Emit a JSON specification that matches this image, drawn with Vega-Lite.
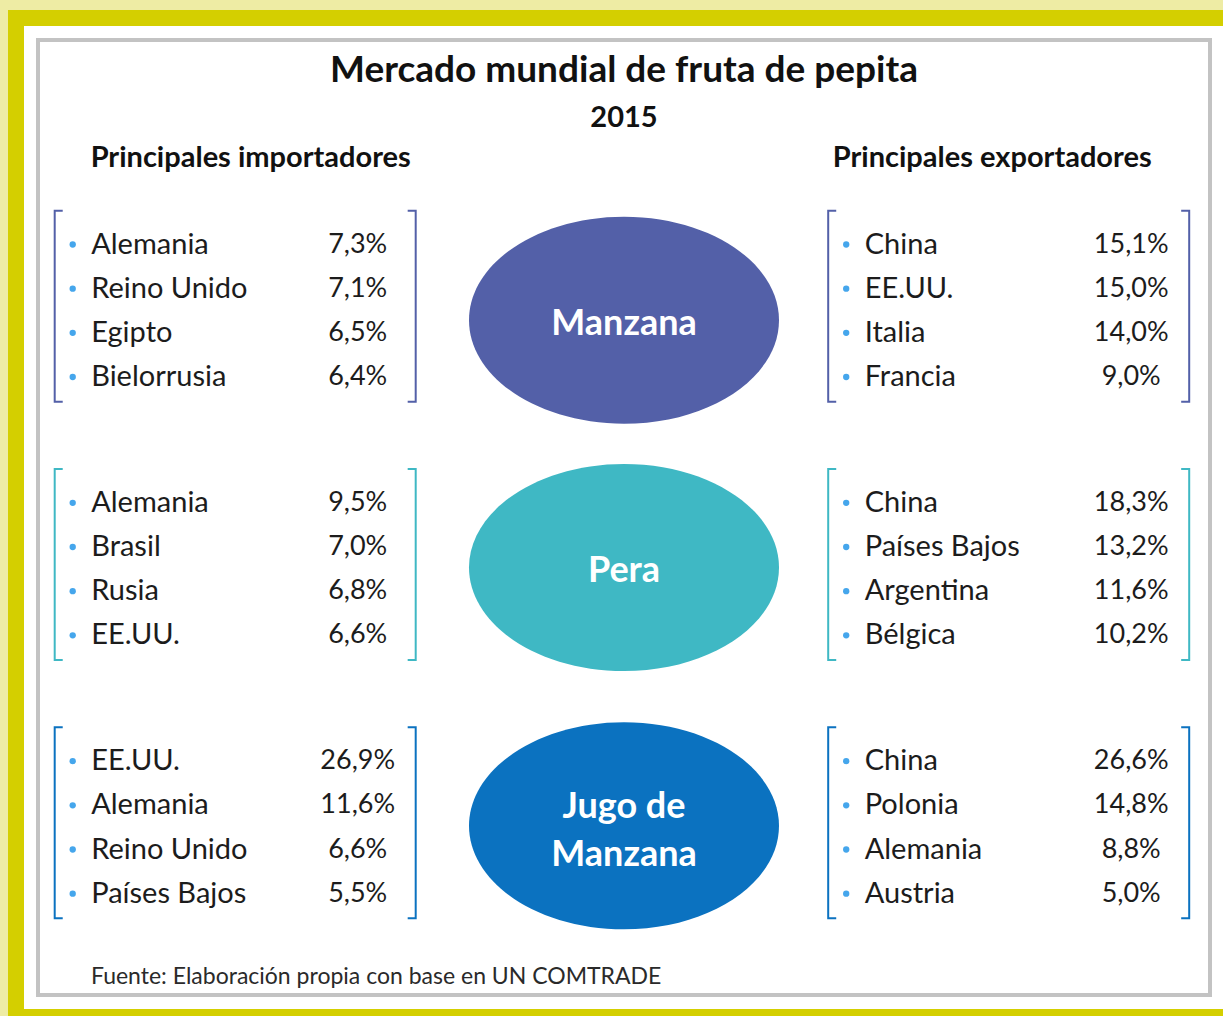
{
  "$schema": "https://vega.github.io/schema/vega-lite/v6.json",
  "width": 1172,
  "height": 955,
  "autosize": {"type": "none"},
  "padding": {"left": 38, "top": 40, "right": 13, "bottom": 21},
  "background": "#eeeca4",
  "config": {
    "view": {"fill": "white", "stroke": null},
    "font": "Lato",
    "locale": {"number": {"decimal": ",", "thousands": ".", "grouping": [3], "currency": ["", " €"]}}
  },
  "title": {
    "text": "Mercado mundial de fruta de pepita",
    "subtitle": "2015",
    "anchor": "middle",
    "frame": "group",
    "offset": -124,
    "font": "Lato",
    "fontSize": 37,
    "fontWeight": "bold",
    "color": "#111111",
    "subtitleFont": "Lato",
    "subtitleFontSize": 29,
    "subtitleFontWeight": "bold",
    "subtitleColor": "#111111",
    "subtitlePadding": 14
  },
  "datasets": {
    "mercado": [
      {"producto": "Manzana", "lado": "Principales importadores", "rango": 1, "pais": "Alemania", "cuota": 0.073},
      {"producto": "Manzana", "lado": "Principales importadores", "rango": 2, "pais": "Reino Unido", "cuota": 0.071},
      {"producto": "Manzana", "lado": "Principales importadores", "rango": 3, "pais": "Egipto", "cuota": 0.065},
      {"producto": "Manzana", "lado": "Principales importadores", "rango": 4, "pais": "Bielorrusia", "cuota": 0.064},
      {"producto": "Manzana", "lado": "Principales exportadores", "rango": 1, "pais": "China", "cuota": 0.151},
      {"producto": "Manzana", "lado": "Principales exportadores", "rango": 2, "pais": "EE.UU.", "cuota": 0.150},
      {"producto": "Manzana", "lado": "Principales exportadores", "rango": 3, "pais": "Italia", "cuota": 0.140},
      {"producto": "Manzana", "lado": "Principales exportadores", "rango": 4, "pais": "Francia", "cuota": 0.090},
      {"producto": "Pera", "lado": "Principales importadores", "rango": 1, "pais": "Alemania", "cuota": 0.095},
      {"producto": "Pera", "lado": "Principales importadores", "rango": 2, "pais": "Brasil", "cuota": 0.070},
      {"producto": "Pera", "lado": "Principales importadores", "rango": 3, "pais": "Rusia", "cuota": 0.068},
      {"producto": "Pera", "lado": "Principales importadores", "rango": 4, "pais": "EE.UU.", "cuota": 0.066},
      {"producto": "Pera", "lado": "Principales exportadores", "rango": 1, "pais": "China", "cuota": 0.183},
      {"producto": "Pera", "lado": "Principales exportadores", "rango": 2, "pais": "Países Bajos", "cuota": 0.132},
      {"producto": "Pera", "lado": "Principales exportadores", "rango": 3, "pais": "Argentina", "cuota": 0.116},
      {"producto": "Pera", "lado": "Principales exportadores", "rango": 4, "pais": "Bélgica", "cuota": 0.102},
      {"producto": "Jugo de Manzana", "lado": "Principales importadores", "rango": 1, "pais": "EE.UU.", "cuota": 0.269},
      {"producto": "Jugo de Manzana", "lado": "Principales importadores", "rango": 2, "pais": "Alemania", "cuota": 0.116},
      {"producto": "Jugo de Manzana", "lado": "Principales importadores", "rango": 3, "pais": "Reino Unido", "cuota": 0.066},
      {"producto": "Jugo de Manzana", "lado": "Principales importadores", "rango": 4, "pais": "Países Bajos", "cuota": 0.055},
      {"producto": "Jugo de Manzana", "lado": "Principales exportadores", "rango": 1, "pais": "China", "cuota": 0.266},
      {"producto": "Jugo de Manzana", "lado": "Principales exportadores", "rango": 2, "pais": "Polonia", "cuota": 0.148},
      {"producto": "Jugo de Manzana", "lado": "Principales exportadores", "rango": 3, "pais": "Alemania", "cuota": 0.088},
      {"producto": "Jugo de Manzana", "lado": "Principales exportadores", "rango": 4, "pais": "Austria", "cuota": 0.050}
    ],
    "productos": [
      {"producto": "Manzana", "rotulo": ["Manzana"]},
      {"producto": "Pera", "rotulo": ["Pera"]},
      {"producto": "Jugo de Manzana", "rotulo": ["Jugo de", "Manzana"]}
    ],
    "lados": [
      {"lado": "Principales importadores"},
      {"lado": "Principales exportadores"}
    ],
    "nota": [
      {"fuente": "Fuente: Elaboración propia con base en UN COMTRADE"}
    ]
  },
  "encoding": {
    "x": {"field": "lado", "type": "nominal", "axis": null,
      "scale": {"type": "point", "domain": ["Principales importadores", "Principales exportadores"], "range": [198.7, 972.2], "padding": 0}},
    "y": {"field": "producto", "type": "nominal", "axis": null,
      "scale": {"type": "band", "domain": ["Manzana", "Pera", "Jugo de Manzana"], "range": [140, 915], "padding": 0}}
  },
  "layer": [
    {
      "data": {"name": "nota"},
      "mark": {"type": "rect", "filled": false, "stroke": "#d4cf00", "strokeWidth": 60},
      "encoding": {"x": null, "y": null}
    },
    {
      "data": {"name": "nota"},
      "mark": {"type": "rect", "filled": true, "fill": "#ffffff", "opacity": 1, "stroke": "#ffffff", "strokeWidth": 28},
      "encoding": {"x": null, "y": null}
    },
    {
      "data": {"name": "nota"},
      "mark": {"type": "rect", "filled": false, "stroke": "#c3c3c3", "strokeWidth": 4},
      "encoding": {"x": null, "y": null}
    },
    {
      "data": {"name": "mercado"},
      "transform": [{"filter": "datum.rango == 1"}],
      "mark": {"type": "point", "filled": false, "opacity": 1, "strokeWidth": 2,
        "shape": "M0.084,-1 L0,-1 L0,1 L0.084,1", "size": 36481, "xOffset": -182, "yOffset": -3},
      "encoding": {
        "color": {"field": "producto", "type": "nominal", "legend": null,
          "scale": {"domain": ["Manzana", "Pera", "Jugo de Manzana"], "range": ["#5360a8", "#3fb8c4", "#0b72c0"]}}
      }
    },
    {
      "data": {"name": "mercado"},
      "transform": [{"filter": "datum.rango == 1"}],
      "mark": {"type": "point", "filled": false, "opacity": 1, "strokeWidth": 2,
        "shape": "M-0.084,-1 L0,-1 L0,1 L-0.084,1", "size": 36481, "xOffset": 179, "yOffset": -3},
      "encoding": {
        "color": {"field": "producto", "type": "nominal", "legend": null}
      }
    },
    {
      "data": {"name": "productos"},
      "transform": [{"filter": "datum.producto == 'Manzana'"}],
      "mark": {"type": "point", "filled": true, "opacity": 1, "strokeWidth": 0,
        "shape": "M-1,0 C-1,-0.369 -0.5523,-0.668 0,-0.668 C0.5523,-0.668 1,-0.369 1,0 C1,0.369 0.5523,0.668 0,0.668 C-0.5523,0.668 -1,0.369 -1,0 Z",
        "size": 96100, "yOffset": 11},
      "encoding": {
        "x": null,
        "color": {"field": "producto", "type": "nominal", "legend": null}
      }
    },
    {
      "data": {"name": "productos"},
      "transform": [{"filter": "datum.producto != 'Manzana'"}],
      "mark": {"type": "point", "filled": true, "opacity": 1, "strokeWidth": 0,
        "shape": "M-1,0 C-1,-0.369 -0.5523,-0.668 0,-0.668 C0.5523,-0.668 1,-0.369 1,0 C1,0.369 0.5523,0.668 0,0.668 C-0.5523,0.668 -1,0.369 -1,0 Z",
        "size": 96100, "yOffset": 0},
      "encoding": {
        "x": null,
        "color": {"field": "producto", "type": "nominal", "legend": null}
      }
    },
    {
      "data": {"name": "productos"},
      "transform": [{"filter": "datum.producto == 'Manzana'"}],
      "mark": {"type": "text", "align": "center", "baseline": "middle", "font": "Lato", "fontSize": 36,
        "fontWeight": "bold", "color": "white", "yOffset": 15},
      "encoding": {
        "x": null,
        "text": {"field": "rotulo", "type": "nominal"}
      }
    },
    {
      "data": {"name": "productos"},
      "transform": [{"filter": "datum.producto == 'Pera'"}],
      "mark": {"type": "text", "align": "center", "baseline": "middle", "font": "Lato", "fontSize": 36,
        "fontWeight": "bold", "color": "white", "yOffset": 3},
      "encoding": {
        "x": null,
        "text": {"field": "rotulo", "type": "nominal"}
      }
    },
    {
      "data": {"name": "productos"},
      "transform": [{"filter": "datum.producto == 'Jugo de Manzana'"}],
      "mark": {"type": "text", "align": "center", "baseline": "middle", "font": "Lato", "fontSize": 36,
        "fontWeight": "bold", "color": "white", "lineHeight": 48, "yOffset": -19},
      "encoding": {
        "x": null,
        "text": {"field": "rotulo", "type": "nominal"}
      }
    },
    {
      "data": {"name": "mercado"},
      "mark": {"type": "point", "shape": "circle", "filled": true, "opacity": 1, "size": 40,
        "color": "#45a6ec", "xOffset": -164},
      "encoding": {
        "yOffset": {"field": "rango", "type": "ordinal", "scale": {"type": "point", "range": [64.5, 197], "padding": 0}}
      }
    },
    {
      "data": {"name": "mercado"},
      "mark": {"type": "text", "align": "left", "baseline": "middle", "font": "Lato", "fontSize": 29,
        "color": "#1c1c1c", "xOffset": -145.5},
      "encoding": {
        "yOffset": {"field": "rango", "type": "ordinal"},
        "text": {"field": "pais", "type": "nominal"}
      }
    },
    {
      "data": {"name": "mercado"},
      "mark": {"type": "text", "align": "center", "baseline": "middle", "font": "Lato", "fontSize": 27,
        "color": "#1c1c1c", "xOffset": 121},
      "encoding": {
        "yOffset": {"field": "rango", "type": "ordinal"},
        "text": {"field": "cuota", "type": "quantitative", "format": ".1%"}
      }
    },
    {
      "data": {"name": "lados"},
      "transform": [{"filter": "datum.lado == 'Principales importadores'"}],
      "mark": {"type": "text", "align": "center", "baseline": "middle", "font": "Lato", "fontSize": 29,
        "fontWeight": "bold", "color": "#111111", "xOffset": 14, "yOffset": -359.5},
      "encoding": {
        "y": null,
        "text": {"field": "lado", "type": "nominal"}
      }
    },
    {
      "data": {"name": "lados"},
      "transform": [{"filter": "datum.lado == 'Principales exportadores'"}],
      "mark": {"type": "text", "align": "center", "baseline": "middle", "font": "Lato", "fontSize": 29,
        "fontWeight": "bold", "color": "#111111", "xOffset": -18, "yOffset": -359.5},
      "encoding": {
        "y": null,
        "text": {"field": "lado", "type": "nominal"}
      }
    },
    {
      "data": {"name": "nota"},
      "mark": {"type": "text", "align": "left", "baseline": "middle", "font": "Lato", "fontSize": 23,
        "color": "#2a2a2a", "xOffset": -533, "yOffset": 459.5},
      "encoding": {
        "x": null,
        "y": null,
        "text": {"field": "fuente", "type": "nominal"}
      }
    }
  ]
}
